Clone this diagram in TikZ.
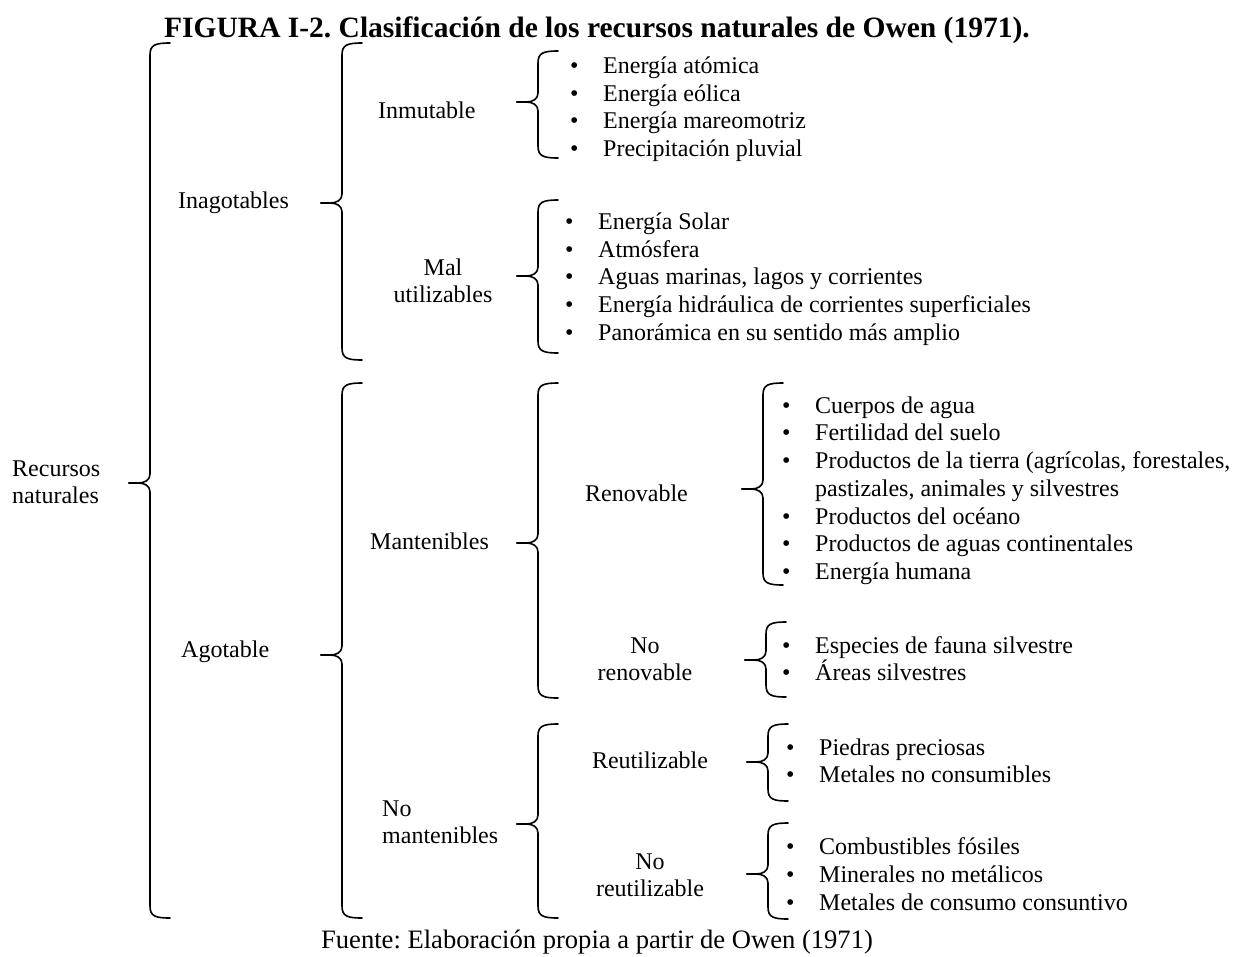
\documentclass[tikz,border=0pt]{standalone}
\usepackage{fontspec}
\setmainfont{Liberation Serif}
\frenchspacing
\newcommand{\wbr}[4]{% x, ytop, ymid, ybot
  \draw[brace line] (#1+20,#2) .. controls (#1+5,#2) and (#1,#2+2) .. (#1,#2+12) -- (#1,#3-9) .. controls (#1,#3-3) and (#1-5,#3) .. (#1-12,#3) -- (#1-21,#3);
  \draw[brace line] (#1-21,#3) -- (#1-12,#3) .. controls (#1-5,#3) and (#1,#3+3) .. (#1,#3+9) -- (#1,#4-12) .. controls (#1,#4-2) and (#1+5,#4) .. (#1+20,#4);
}
\newcommand{\itm}[1]{\makebox[33pt][l]{\textbullet}#1}
\begin{document}
\begin{tikzpicture}[x=1pt,y=-1pt,
  brace line/.style={line width=1.6pt,line join=round,line cap=round},
  lbl/.style={inner sep=0pt,font=\fontsize{24}{27.5}\selectfont},
  lblc/.style={lbl,align=center},
  lbll/.style={lbl,align=left,anchor=west},
  item/.style={lbl,anchor=west,text height=16pt,text depth=5pt}]
\useasboundingbox (0,0) rectangle (1233,956);
% title and source
\node[lbl,font=\fontsize{29.5}{30}\bfseries] (title) at (597,30) {FIGURA I-2. Clasificación de los recursos naturales de Owen (1971).};
\node[lbl,font=\fontsize{26.6}{27}\selectfont] (fuente) at (597,942) {Fuente: Elaboración propia a partir de Owen (1971)};
% labels
\node[lbll] (rn) at (12,482) {Recursos\\naturales};
\node[lbll] (inag) at (178,203) {Inagotables};
\node[lbll] (inmu) at (378,110) {Inmutable};
\node[lblc] (mal) at (443,281) {Mal\\utilizables};
\node[lbll] (agot) at (181,652) {Agotable};
\node[lbll] (mant) at (370,541) {Mantenibles};
\node[lbll] (reno) at (585,493) {Renovable};
\node[lblc] (noreno) at (645,659) {No\\renovable};
\node[lbll] (nomant) at (382,822) {No\\mantenibles};
\node[lblc] (reut) at (650,760) {Reutilizable};
\node[lblc] (noreut) at (650,875) {No\\reutilizable};
% braces
\wbr{150}{43}{483}{918}
\wbr{342}{43}{203}{360}
\wbr{538}{51}{102}{158}
\wbr{538}{200}{276}{353}
\wbr{342}{383}{655}{918}
\wbr{538}{383}{543}{698}
\wbr{763}{383}{489}{585}
\wbr{766}{622}{660}{697}
\wbr{538}{724}{824}{918}
\wbr{768}{724}{762}{801}
\wbr{768}{823}{874}{919}
% Inmutable items
\node[item] (i1) at (570,68) {\itm{Energía atómica}};
\node[item] (i2) at (570,96) {\itm{Energía eólica}};
\node[item] (i3) at (570,123) {\itm{Energía mareomotriz}};
\node[item] (i4) at (570,151) {\itm{Precipitación pluvial}};
% Mal utilizables items
\node[item] (m1) at (565,224) {\itm{Energía Solar}};
\node[item] (m2) at (565,252) {\itm{Atmósfera}};
\node[item] (m3) at (565,279) {\itm{Aguas marinas, lagos y corrientes}};
\node[item] (m4) at (565,307) {\itm{Energía hidráulica de corrientes superficiales}};
\node[item] (m5) at (565,335) {\itm{Panorámica en su sentido más amplio}};
% Renovable items
\node[item] (r1) at (782,408) {\itm{Cuerpos de agua}};
\node[item] (r2) at (782,435) {\itm{Fertilidad del suelo}};
\node[item] (r3) at (782,463) {\itm{Productos de la tierra (agrícolas, forestales,}};
\node[item] (r3b) at (815,491) {pastizales, animales y silvestres};
\node[item] (r4) at (782,519) {\itm{Productos del océano}};
\node[item] (r5) at (782,546) {\itm{Productos de aguas continentales}};
\node[item] (r6) at (782,574) {\itm{Energía humana}};
% No renovable items
\node[item] (n1) at (782,648) {\itm{Especies de fauna silvestre}};
\node[item] (n2) at (782,675) {\itm{Áreas silvestres}};
% Reutilizable items
\node[item] (u1) at (786,750) {\itm{Piedras preciosas}};
\node[item] (u2) at (786,777) {\itm{Metales no consumibles}};
% No reutilizable items
\node[item] (x1) at (786,849) {\itm{Combustibles fósiles}};
\node[item] (x2) at (786,877) {\itm{Minerales no metálicos}};
\node[item] (x3) at (786,905) {\itm{Metales de consumo consuntivo}};
\end{tikzpicture}
\end{document}
